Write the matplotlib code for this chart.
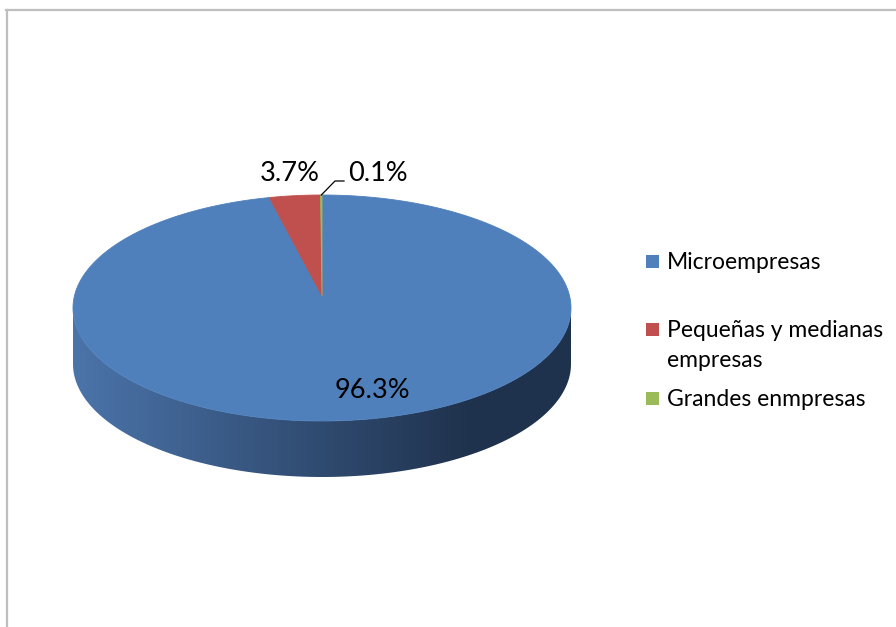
import numpy as np
import matplotlib
matplotlib.use("Agg")
import matplotlib.pyplot as plt
from matplotlib.patches import Polygon, Rectangle
from matplotlib.lines import Line2D

plt.rcParams['font.family'] = ['Lato', 'DejaVu Sans']

# Data
categories = ["Microempresas", "Pequeñas y medianas\nempresas", "Grandes enmpresas"]
shares = [96.3, 3.7, 0.1]
labels = ["96.3%", "3.7%", "0.1%"]
top_colors = ["#4f80bc", "#c0504d", "#9bbb59"]

W, H = 896, 627
fig = plt.figure(figsize=(W / 100, H / 100), dpi=100)
ax = fig.add_axes([0, 0, 1, 1])
ax.set_xlim(0, W)
ax.set_ylim(H, 0)
ax.axis("off")

# chart frame
ax.add_line(Line2D([5.5, W], [9.5, 9.5], color="#bfbfbf", lw=1.6))
ax.add_line(Line2D([6.5, 6.5], [9.5, H], color="#bfbfbf", lw=1.6))

# 3D pie geometry (pixel space): rim ellipse plus a projected centre point
cx, cy = 322.0, 308.0
a, b = 249.0, 113.0
apex = np.array([322.0, 296.0])
depth = 56.0


def rim(theta_deg):
    """Point on the rim for an angle measured clockwise from 12 o'clock,
    found by casting a ray from the projected centre onto the rim ellipse."""
    t = np.radians(np.atleast_1d(theta_deg))
    dx, dy = a * np.sin(t), -b * np.cos(t)
    ox, oy = apex[0] - cx, apex[1] - cy
    A = (dx / a) ** 2 + (dy / b) ** 2
    B = 2 * (ox * dx / a ** 2 + oy * dy / b ** 2)
    C = (ox / a) ** 2 + (oy / b) ** 2 - 1
    s = (-B + np.sqrt(B ** 2 - 4 * A * C)) / (2 * A)
    return apex[0] + s * dx, apex[1] + s * dy


total = float(sum(shares))
bounds = np.concatenate([[0.0], np.cumsum(shares) / total * 360.0])

# side walls: only the part of the rim below the ellipse's horizontal axis shows
side_left = np.array([75, 116, 170]) / 255.0
side_right = np.array([31, 50, 77]) / 255.0
for i in range(len(shares)):
    th = np.linspace(bounds[i], bounds[i + 1], 800)
    xs, ys = rim(th)
    keep = ys >= cy
    if keep.sum() < 2:
        continue
    xs, ys = xs[keep], ys[keep]
    poly = np.vstack([np.column_stack([xs, ys]),
                      np.column_stack([xs[::-1], ys[::-1] + depth])])
    patch = Polygon(poly, closed=True, facecolor="none", edgecolor="none")
    ax.add_patch(patch)
    if i == 0:
        x0, x1 = cx - a, cx + a
        gx = np.linspace(x0, x1, 400)
        t = np.clip((gx - x0) / (470 - x0), 0, 1)[:, None]
        grad = side_left * (1 - t) + side_right * t
        im = ax.imshow(grad[None, :, :], extent=[x0, x1, cy + b + depth + 5, cy - 5],
                       aspect="auto", interpolation="bilinear", zorder=1)
        im.set_clip_path(patch)
    else:
        patch.set_facecolor(top_colors[i])
        patch.set_zorder(1)

# top face wedges
for i in range(len(shares)):
    th = np.linspace(bounds[i], bounds[i + 1], max(3, int((bounds[i + 1] - bounds[i]) * 2)))
    xs, ys = rim(th)
    poly = np.vstack([[apex], np.column_stack([xs, ys])])
    ax.add_patch(Polygon(poly, closed=True, facecolor=top_colors[i],
                         edgecolor=top_colors[i], lw=0.6, zorder=2))

# data labels
ax.text(372, 398, labels[0], fontsize=19.5, ha="center", va="baseline", color="black", zorder=3)
ax.text(290, 181, labels[1], fontsize=19.5, ha="center", va="baseline", color="black", zorder=3)
ax.text(378, 181, labels[2], fontsize=19.5, ha="center", va="baseline", color="black", zorder=3)
gx0, gy0 = rim(bounds[2] + (bounds[3] - bounds[2]) / 2)
ax.add_line(Line2D([gx0[0], 335, 344], [gy0[0], 181, 181], color="black", lw=0.9, zorder=3))

# legend
legend_baselines = [269, 337, 406]
for i, (name, y) in enumerate(zip(categories, legend_baselines)):
    ax.add_patch(Rectangle((646, y - 14), 13, 13, facecolor=top_colors[i],
                           edgecolor="none", zorder=3))
    for k, line in enumerate(name.split("\n")):
        ax.text(667, y + 30 * k, line, fontsize=16.5, ha="left", va="baseline",
                color="black", zorder=3)

fig.savefig("out.png", dpi=100)
